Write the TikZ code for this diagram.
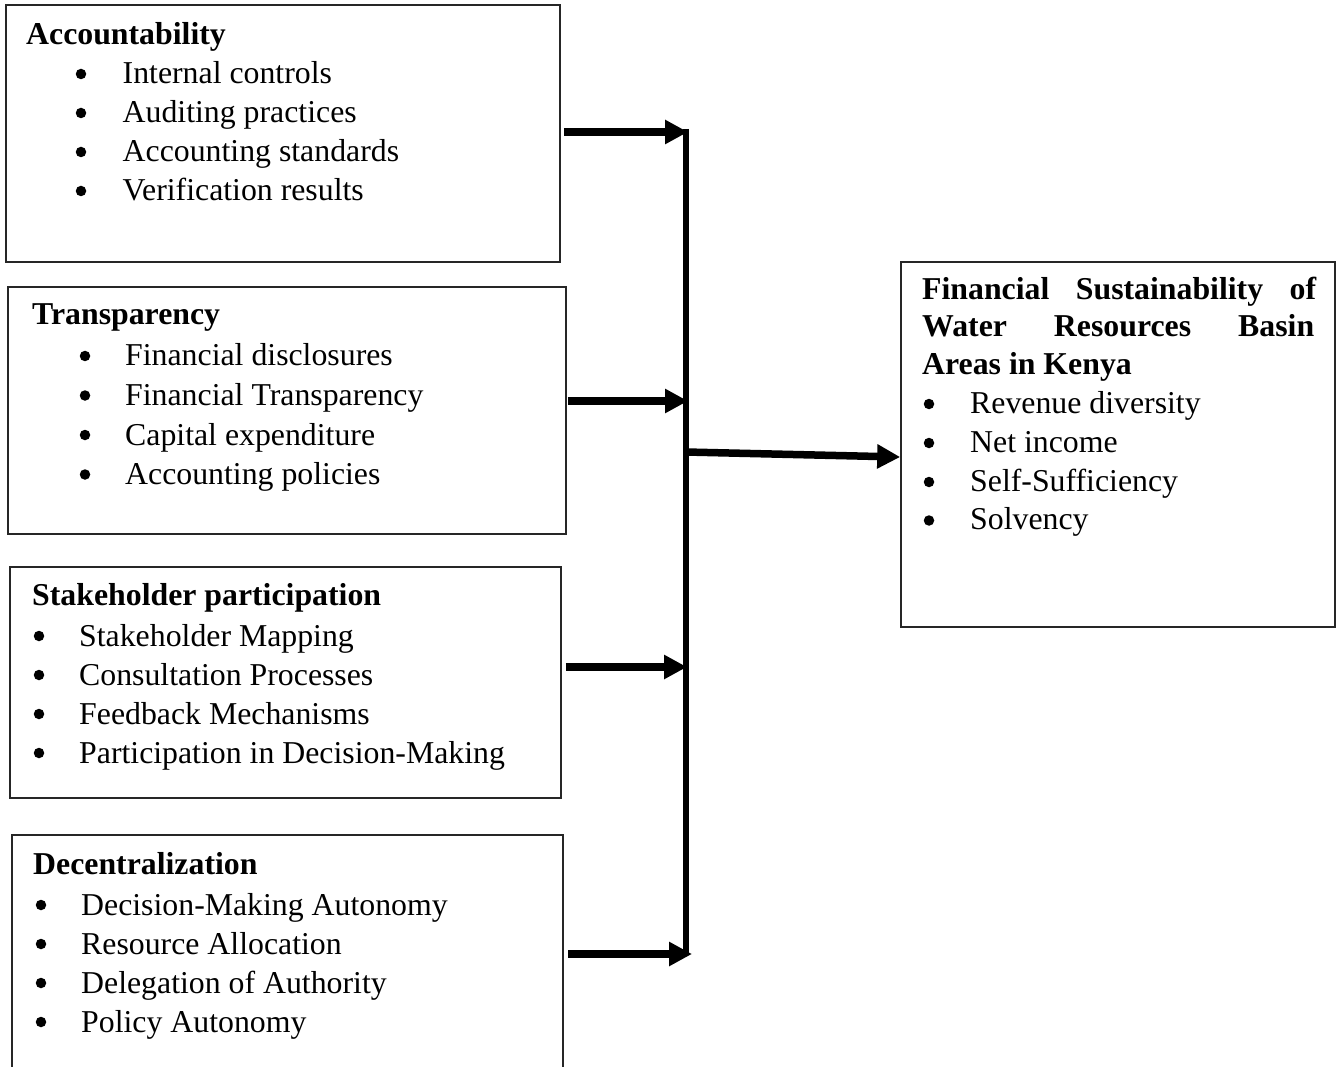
\documentclass[tikz,border=0pt]{standalone}
\usepackage{fontspec}
\setmainfont{Liberation Serif}
\usetikzlibrary{arrows.meta}
\tikzset{
  box/.style={draw=black!85, line width=1.6pt, rectangle, inner sep=0pt},
  txt/.style={anchor=base west, inner sep=0pt, font=\fontsize{31.8}{38}\selectfont},
  hd/.style={txt, font=\fontsize{31.8}{38}\selectfont\bfseries},
  bul/.style={circle, fill=black, inner sep=0pt, minimum size=10.5pt},
  arr/.style={line width=7.5pt, -{Triangle[length=23pt,width=23pt]}},
  bus/.style={line width=5.5pt},
}
\begin{document}
\begin{tikzpicture}[x=1pt,y=-1pt]
\useasboundingbox (0,0) rectangle (1339,1067);
% boxes
\node[box, minimum width=554pt, minimum height=257pt] (boxA) at (283,133.5) {};
\node[box, minimum width=558pt, minimum height=247pt] (boxB) at (287,410.5) {};
\node[box, minimum width=551pt, minimum height=231pt] (boxC) at (285.5,682.5) {};
\node[inner sep=0pt, minimum width=551pt, minimum height=245pt] (boxD) at (287.5,957.5) {};
\draw[draw=black!85, line width=1.6pt] (boxD.south west) -- (boxD.north west) -- (boxD.north east) -- (boxD.south east);
\node[box, minimum width=434pt, minimum height=365pt] (boxE) at (1118,444.5) {};
% box A text
\node[hd] (hA) at (26,45) {Accountability};
\foreach \t [count=\i] in {Internal controls, Auditing practices, Accounting standards, Verification results}{
  \node[bul] (bA\i) at (81,{84+39*(\i-1)-10}) {};
  \node[txt] (tA\i) at (122.5,{84+39*(\i-1)}) {\t};
}
% box B text
\node[hd] (hB) at (32,325) {Transparency};
\foreach \t/\y [count=\i] in {Financial disclosures/366, Financial Transparency/405.5, Capital expenditure/445, Accounting policies/484.5}{
  \node[bul] (bB\i) at (85,{\y-10}) {};
  \node[txt] (tB\i) at (125,\y) {\t};
}
% box C text
\node[hd] (hC) at (32,605) {Stakeholder participation};
\foreach \t [count=\i] in {Stakeholder Mapping, Consultation Processes, Feedback Mechanisms, Participation in Decision-Making}{
  \node[bul] (bC\i) at (39,{646+39*(\i-1)-10}) {};
  \node[txt] (tC\i) at (79,{646+39*(\i-1)}) {\t};
}
% box D text
\node[hd] (hD) at (33,874) {Decentralization};
\foreach \t [count=\i] in {Decision-Making Autonomy, Resource Allocation, Delegation of Authority, Policy Autonomy}{
  \node[bul] (bD\i) at (41,{915+39*(\i-1)-10}) {};
  \node[txt] (tD\i) at (81,{915+39*(\i-1)}) {\t};
}
% box E text
\node[hd] (hE1) at (922,300) {\hbox to 394pt{Financial\hfill Sustainability\hfill of}};
\node[hd] (hE2) at (922,337) {\hbox to 392pt{Water\hfill Resources\hfill Basin}};
\node[hd] (hE3) at (922,374) {Areas in Kenya};
\foreach \t/\y [count=\i] in {Revenue diversity/413, Net income/452, Self-Sufficiency/491, Solvency/529.5}{
  \node[bul] (bE\i) at (929,{\y-9}) {};
  \node[txt] (tE\i) at (970,\y) {\t};
}
% bus and arrows
\coordinate (busTop) at (686,129);
\coordinate (busBot) at (686,955);
\coordinate (jA) at (688,132);
\coordinate (jB) at (688,401);
\coordinate (jC) at (687,667);
\coordinate (jD) at (692,954);
\coordinate (jM) at (686,452);
\draw[bus] (busTop) -- (busBot);
\draw[arr, shorten <=3pt] (boxA.east |- jA) -- (jA);
\draw[arr, shorten <=1pt] (boxB.east |- jB) -- (jB);
\draw[arr, shorten <=4pt] (boxC.east |- jC) -- (jC);
\draw[arr, shorten <=5pt] (boxD.east |- jD) -- (jD);
\draw[arr] (jM) -- ([yshift=-12.5pt]boxE.west);
\end{tikzpicture}
\end{document}
